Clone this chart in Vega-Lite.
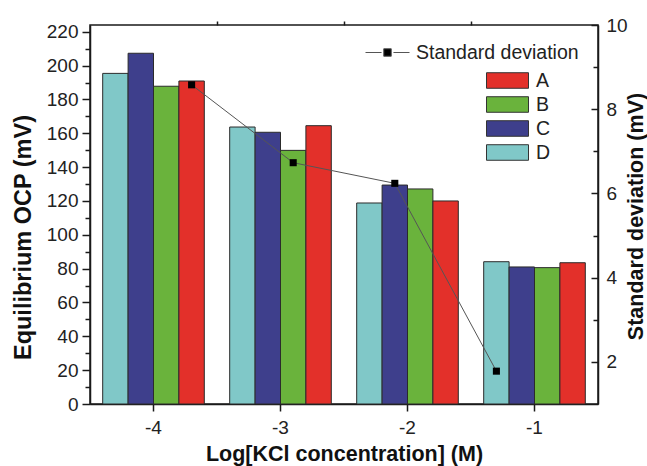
{
  "$schema": "https://vega.github.io/schema/vega-lite/v6.json",
  "width": 508,
  "height": 379,
  "autosize": {"type": "none"},
  "padding": {"left": 90, "top": 25, "right": 49, "bottom": 62},
  "background": "white",
  "config": {
    "font": "Liberation Sans",
    "view": {"stroke": "#1a1a1a", "strokeWidth": 1.5},
    "axis": {
      "grid": false,
      "domainColor": "#1a1a1a",
      "domainWidth": 1.5,
      "tickColor": "#1a1a1a",
      "tickWidth": 1.5,
      "labelFont": "Liberation Sans",
      "labelFontSize": 19,
      "labelColor": "#222222",
      "titleFont": "Liberation Sans",
      "titleFontWeight": "bold",
      "titleColor": "#111111"
    }
  },
  "datasets": {
    "ocp": [
      {"conc": -4, "series": "D", "ocp": 195.4},
      {"conc": -4, "series": "C", "ocp": 207.3},
      {"conc": -4, "series": "B", "ocp": 187.8},
      {"conc": -4, "series": "A", "ocp": 190.9},
      {"conc": -3, "series": "D", "ocp": 163.7},
      {"conc": -3, "series": "C", "ocp": 160.6},
      {"conc": -3, "series": "B", "ocp": 149.9},
      {"conc": -3, "series": "A", "ocp": 164.5},
      {"conc": -2, "series": "D", "ocp": 118.8},
      {"conc": -2, "series": "C", "ocp": 129.4},
      {"conc": -2, "series": "B", "ocp": 127.1},
      {"conc": -2, "series": "A", "ocp": 120.0},
      {"conc": -1, "series": "D", "ocp": 84.1},
      {"conc": -1, "series": "C", "ocp": 81.0},
      {"conc": -1, "series": "B", "ocp": 80.6},
      {"conc": -1, "series": "A", "ocp": 83.5}
    ],
    "sd": [
      {"conc": -4, "series": "A", "sd": 8.58},
      {"conc": -3, "series": "B", "sd": 6.73},
      {"conc": -2, "series": "C", "sd": 6.24},
      {"conc": -1, "series": "D", "sd": 1.78}
    ]
  },
  "layer": [
    {
      "layer": [
        {
          "data": {"name": "ocp"},
          "mark": {"type": "bar", "stroke": "#2b2b2b", "strokeWidth": 1},
          "encoding": {
            "x": {
              "field": "conc", "type": "ordinal",
              "scale": {"paddingInner": 0.2, "paddingOuter": 0.1},
              "axis": {"title": "Log[KCl concentration] (M)", "labelAngle": 0, "tickSize": 7, "labelPadding": 7,
                       "titleFontSize": 21.5, "titleY": 56, "titleBaseline": "alphabetic"}
            },
            "xOffset": {"field": "series", "type": "nominal", "sort": ["D", "C", "B", "A"],
                        "scale": {"paddingInner": 0, "paddingOuter": 0}},
            "y": {
              "field": "ocp", "type": "quantitative",
              "scale": {"domain": [0, 224], "nice": false},
              "axis": {
                "title": "Equilibrium OCP (mV)",
                "values": [0, 10, 20, 30, 40, 50, 60, 70, 80, 90, 100, 110, 120, 130, 140, 150, 160, 170, 180, 190, 200, 210, 220],
                "labelExpr": "datum.value % 20 == 0 ? datum.label : ''",
                "tickSize": {"condition": {"test": "datum.value % 20 == 0", "value": 8}, "value": 5},
                "labelPadding": 4,
                "titleFontSize": 23.5,
                "titleX": -67, "titleY": 212, "titleAngle": -90, "titleAlign": "center", "titleBaseline": "middle"
              }
            },
            "color": {
              "field": "series", "type": "nominal",
              "scale": {"domain": ["A", "B", "C", "D"], "range": ["#e3302a", "#6ab33c", "#3e3f8c", "#80c8c8"]},
              "legend": {
                "orient": "none", "legendX": 396, "legendY": 45.5, "title": null, "padding": 0,
                "symbolType": "M-1,-0.37H1V0.37H-1Z", "symbolSize": 1764,
                "symbolStrokeColor": "#333333", "symbolStrokeWidth": 1,
                "clipHeight": 20,
                "labelFontSize": 19.5, "labelOffset": 7, "rowPadding": 4, "labelColor": "#222222"
              }
            }
          }
        },
        {
          "data": {"name": "sd"},
          "layer": [
            {
              "mark": {"type": "line", "strokeWidth": 1},
              "encoding": {
                "x": {"field": "conc", "type": "ordinal", "axis": {"title": "Log[KCl concentration] (M)"}},
                "xOffset": {"field": "series", "type": "nominal", "sort": ["D", "C", "B", "A"]},
                "y": {"field": "sd", "type": "quantitative", "scale": {"domain": [1, 10], "nice": false, "zero": false},
                  "axis": {
                    "orient": "right",
                    "title": "Standard deviation (mV)",
                    "values": [2, 3, 4, 5, 6, 7, 8, 9, 10],
                    "labelExpr": "datum.value % 2 == 0 ? datum.label : ''",
                    "tickSize": {"condition": {"test": "datum.value % 2 == 0", "value": -7}, "value": -5},
                    "labelPadding": 15,
                    "titleFontSize": 21.5,
                    "titleX": 38, "titleY": 191, "titleAngle": -90, "titleAlign": "center", "titleBaseline": "middle"
                  }
                },
                "stroke": {
                  "datum": "Standard deviation",
                  "scale": {"range": ["#555555"]},
                  "legend": {
                    "orient": "none", "legendX": 275, "legendY": 5, "title": null, "padding": 0,
                    "symbolType": "M-1,0H-0.27M0.27,0H1M-0.17,-0.17H0.17V0.17H-0.17Z", "symbolSize": 1936,
                    "symbolStrokeWidth": 1, "symbolFillColor": "#000000",
                    "labelFontSize": 19.5, "labelOffset": 6, "labelColor": "#222222", "labelLimit": 0,
                    "encode": {"symbols": {"update": {"fill": {"value": "#000000"}}}}
                  }
                }
              }
            },
            {
              "mark": {"type": "point", "shape": "square", "filled": true, "color": "#000000", "size": 50, "opacity": 1},
              "encoding": {
                "x": {"field": "conc", "type": "ordinal", "axis": {"title": "Log[KCl concentration] (M)"}},
                "xOffset": {"field": "series", "type": "nominal", "sort": ["D", "C", "B", "A"]},
                "y": {"field": "sd", "type": "quantitative", "scale": {"domain": [1, 10], "nice": false, "zero": false},
                  "axis": {
                    "orient": "right",
                    "title": "Standard deviation (mV)",
                    "values": [2, 3, 4, 5, 6, 7, 8, 9, 10],
                    "labelExpr": "datum.value % 2 == 0 ? datum.label : ''",
                    "tickSize": {"condition": {"test": "datum.value % 2 == 0", "value": -7}, "value": -5},
                    "labelPadding": 15,
                    "titleFontSize": 21.5,
                    "titleX": 38, "titleY": 191, "titleAngle": -90, "titleAlign": "center", "titleBaseline": "middle"
                  }
                }
              }
            }
          ]
        }
      ],
      "resolve": {"scale": {"y": "independent"}}
    },
    {
      "data": {"name": "sd"},
      "mark": {"type": "point", "opacity": 0},
      "encoding": {
        "x": {
          "field": "conc", "type": "quantitative",
          "scale": {"domain": [-4.5, -0.5], "nice": false, "zero": false},
          "axis": {"values": [-3.5, -2.5, -1.5], "labels": false, "domain": false, "tickSize": 4, "title": null}
        }
      }
    }
  ],
  "resolve": {"scale": {"x": "independent", "y": "independent"}}
}
